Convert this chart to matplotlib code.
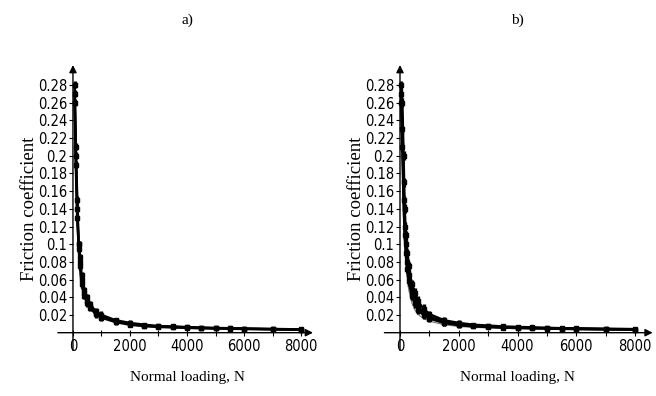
import matplotlib
matplotlib.use("Agg")
import matplotlib.pyplot as plt
from matplotlib import font_manager

# normal load, N
load_a = [60, 100, 150, 200, 250, 300, 400, 500, 600, 800, 1000, 1500, 2000,
          2500, 3000, 3500, 4000, 4500, 5000, 5500, 6000, 7000, 8000]

# friction coefficient, panel a) (three overlapping runs)
mu_a1 = [0.280, 0.210, 0.150, 0.100, 0.080, 0.060, 0.045, 0.036, 0.030, 0.022,
         0.018, 0.013, 0.010, 0.008, 0.007, 0.0065, 0.006, 0.0055, 0.005,
         0.005, 0.0045, 0.004, 0.0035]
mu_a2 = [0.270, 0.200, 0.140, 0.095, 0.075, 0.055, 0.042, 0.033, 0.028, 0.021,
         0.017, 0.012, 0.009, 0.0075, 0.0065, 0.006, 0.0055, 0.005, 0.0048,
         0.0045, 0.0042, 0.0038, 0.0033]
mu_a3 = [0.260, 0.190, 0.130, 0.100, 0.085, 0.065, 0.048, 0.040, 0.032, 0.024,
         0.020, 0.014, 0.011, 0.009, 0.0075, 0.007, 0.0063, 0.0058, 0.0053,
         0.005, 0.0047, 0.0042, 0.0037]
err_a = [0.004, 0.004, 0.004, 0.004, 0.004, 0.004, 0.004, 0.004, 0.004, 0.004,
         0.004, 0.003, 0.003, 0.002, 0.002, 0.002, 0.002, 0.002, 0.002,
         0.002, 0.002, 0.002, 0.002]

# panel b)
load_b = [40, 80, 120, 160, 200, 250, 300, 400, 500, 600, 800, 1000, 1500, 2000,
          2500, 3000, 3500, 4000, 4500, 5000, 5500, 6000, 7000, 8000]
mu_b1 = [0.280, 0.260, 0.200, 0.140, 0.110, 0.090, 0.075, 0.055, 0.045, 0.036,
         0.027, 0.021, 0.014, 0.011, 0.009, 0.008, 0.007, 0.0065, 0.006,
         0.0055, 0.005, 0.005, 0.0045, 0.004]
mu_b2 = [0.270, 0.230, 0.170, 0.120, 0.100, 0.080, 0.065, 0.048, 0.038, 0.030,
         0.023, 0.018, 0.012, 0.009, 0.008, 0.007, 0.0062, 0.0058, 0.0054,
         0.005, 0.0047, 0.0044, 0.004, 0.0036]
mu_b3 = [0.260, 0.210, 0.150, 0.110, 0.090, 0.072, 0.058, 0.042, 0.033, 0.026,
         0.020, 0.016, 0.011, 0.0085, 0.0072, 0.0064, 0.0058, 0.0053, 0.005,
         0.0047, 0.0044, 0.0041, 0.0037, 0.0034]
mu_b4 = [0.250, 0.190, 0.130, 0.095, 0.075, 0.060, 0.048, 0.034, 0.026, 0.021,
         0.016, 0.013, 0.009, 0.007, 0.006, 0.0055, 0.005, 0.0046, 0.0043,
         0.004, 0.0038, 0.0036, 0.0033, 0.003]
err_b = [0.005, 0.005, 0.005, 0.005, 0.005, 0.005, 0.005, 0.005, 0.005, 0.005,
         0.005, 0.004, 0.004, 0.003, 0.002, 0.002, 0.002, 0.002, 0.002, 0.002,
         0.002, 0.002, 0.002, 0.002]

y_ticks = [0.02, 0.04, 0.06, 0.08, 0.10, 0.12, 0.14, 0.16, 0.18, 0.20,
           0.22, 0.24, 0.26, 0.28]
y_labels = ["0.02", "0.04", "0.06", "0.08", "0.1", "0.12", "0.14", "0.16",
            "0.18", "0.2", "0.22", "0.24", "0.26", "0.28"]
x_ticks = [0, 2000, 4000, 6000, 8000]

names = {f.name for f in font_manager.fontManager.ttflist}
if "Liberation Sans Narrow" in names:
    tick_font = dict(fontfamily="Liberation Sans Narrow")
else:
    tick_font = dict(fontfamily="DejaVu Sans", fontstretch="condensed")
serif_font = "Liberation Serif"


def draw_panel(ax, load, series, err, x_tip, title):
    for i, mu in enumerate(series):
        if i == 3:
            ax.plot(load, mu, color="0.45", lw=0.8, zorder=2)
        else:
            ax.errorbar(load, mu, yerr=err, color="k", lw=1.8, elinewidth=2.4,
                        capsize=0, marker="s", ms=2.8, zorder=3)

    ax.set_xlim(-700, 8700)
    ax.set_ylim(-0.025, 0.305)
    for s in ax.spines.values():
        s.set_visible(False)
    ax.spines["left"].set_position(("data", 0))
    ax.spines["bottom"].set_position(("data", 0))

    # axes with arrow heads
    ax.annotate("", xy=(x_tip, 0), xytext=(-530, 0),
                arrowprops=dict(arrowstyle="-|>", color="k", lw=1,
                                mutation_scale=11, shrinkA=0, shrinkB=0))
    ax.annotate("", xy=(0, 0.3025), xytext=(0, -0.02),
                arrowprops=dict(arrowstyle="-|>", color="k", lw=1,
                                mutation_scale=11, shrinkA=0, shrinkB=0))

    ax.set_yticks(y_ticks)
    ax.set_yticklabels(y_labels, fontsize=10.5, **tick_font)
    ax.set_xticks(x_ticks)
    ax.set_xticklabels([str(v) for v in x_ticks], fontsize=10.5, **tick_font)
    ax.set_xticks([1000, 3000, 5000, 7000], minor=True)
    ax.tick_params(axis="y", direction="out", length=3, width=0.8, pad=1)
    ax.tick_params(axis="x", which="both", direction="inout", length=5,
                   width=0.8, pad=2)

    ax.set_xlabel("Normal loading, N", fontfamily=serif_font, fontsize=11,
                  labelpad=12)
    ax.set_ylabel("Friction coefficient", fontfamily=serif_font, fontsize=13.5,
                  labelpad=0)
    ax.set_title(title, fontfamily=serif_font, fontsize=11, pad=28)


fig = plt.figure(figsize=(6.56, 3.96), dpi=100)
ax_a = fig.add_axes([0.0808, 0.104, 0.4085, 0.7374])
ax_b = fig.add_axes([0.5784, 0.104, 0.421, 0.7374])

draw_panel(ax_a, load_a, [mu_a1, mu_a2, mu_a3], err_a, 8420, "a)")
draw_panel(ax_b, load_b, [mu_b1, mu_b2, mu_b3, mu_b4], err_b, 8600, "b)")

fig.savefig("out.png", dpi=100)
